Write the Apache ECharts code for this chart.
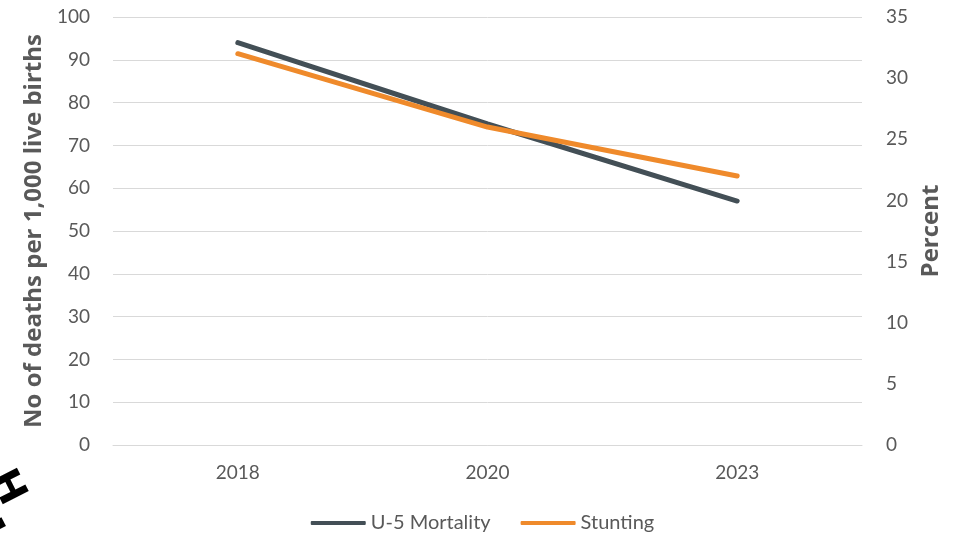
<!DOCTYPE html>
<html><head><meta charset="utf-8">
<script src="https://cdn.jsdelivr.net/npm/echarts@6/dist/echarts.min.js"></script>
<style>html,body{margin:0;padding:0;background:#fff}#c{width:965px;height:541px}</style>
</head><body><div id="c"></div>
<script>
const categories = ['2018', '2020', '2023'];
const mortality = [94, 75, 57];
const stunting = [32, 26, 22];
const leftTicks = [0, 100, 10];
const rightTicks = [0, 35, 5];

const FONT = 'Lato, "Open Sans", sans-serif';
const BFONT = '"Open Sans", "DejaVu Sans", sans-serif';
const TXT = '#595959';
const chart = echarts.init(document.getElementById('c'));
chart.setOption({
  animation: false,
  textStyle: { fontFamily: FONT },
  grid: { left: 113, right: 103, top: 17, bottom: 96, containLabel: false },
  legend: {
    bottom: 3, left: 'center', itemWidth: 55, itemHeight: 4, itemGap: 30,
    icon: 'roundRect',
    textStyle: { color: TXT, fontSize: 20, fontFamily: FONT },
    data: ['U-5 Mortality', 'Stunting']
  },
  xAxis: {
    type: 'category', data: categories, boundaryGap: true,
    axisLine: { show: true, lineStyle: { color: '#d9d9d9', width: 1 } },
    axisTick: { show: false },
    axisLabel: { color: TXT, fontSize: 19, margin: 18, fontFamily: FONT }
  },
  yAxis: [
    {
      type: 'value', min: leftTicks[0], max: leftTicks[1], interval: leftTicks[2],
      name: 'No of deaths per 1,000 live births', nameLocation: 'middle', nameGap: 63,
      nameTextStyle: { color: TXT, fontSize: 24, fontWeight: 'bold', fontFamily: BFONT },
      axisLine: { show: false }, axisTick: { show: false },
      axisLabel: { color: TXT, fontSize: 19, margin: 23, fontFamily: FONT },
      splitLine: { lineStyle: { color: '#d9d9d9', width: 1 } }
    },
    {
      type: 'value', min: rightTicks[0], max: rightTicks[1], interval: rightTicks[2],
      name: 'Percent', nameLocation: 'middle', nameGap: 56,
      nameTextStyle: { color: TXT, fontSize: 24, fontWeight: 'bold', fontFamily: BFONT },
      axisLine: { show: false }, axisTick: { show: false },
      axisLabel: { color: TXT, fontSize: 19, margin: 24, fontFamily: FONT },
      splitLine: { show: false }
    }
  ],
  series: [
    {
      name: 'U-5 Mortality', type: 'line', yAxisIndex: 0, data: mortality,
      symbol: 'none', lineStyle: { color: '#434f56', width: 5, cap: 'round' },
      itemStyle: { color: '#434f56' }
    },
    {
      name: 'Stunting', type: 'line', yAxisIndex: 1, data: stunting,
      symbol: 'none', lineStyle: { color: '#ef8a2b', width: 5, cap: 'round' },
      itemStyle: { color: '#ef8a2b' }
    }
  ],
  graphic: [
    {
      type: 'text', x: 6, y: 488, rotation: -1.1,
      style: { text: 'H', font: 'bold 40px "DejaVu Sans", sans-serif', fill: '#000',
               align: 'center', verticalAlign: 'middle' }
    },
    {
      type: 'rect', x: 1, y: 523, rotation: -1.1,
      shape: { x: -5, y: -3, width: 10, height: 7 },
      style: { fill: '#000' }
    }
  ]
});
</script></body></html>
